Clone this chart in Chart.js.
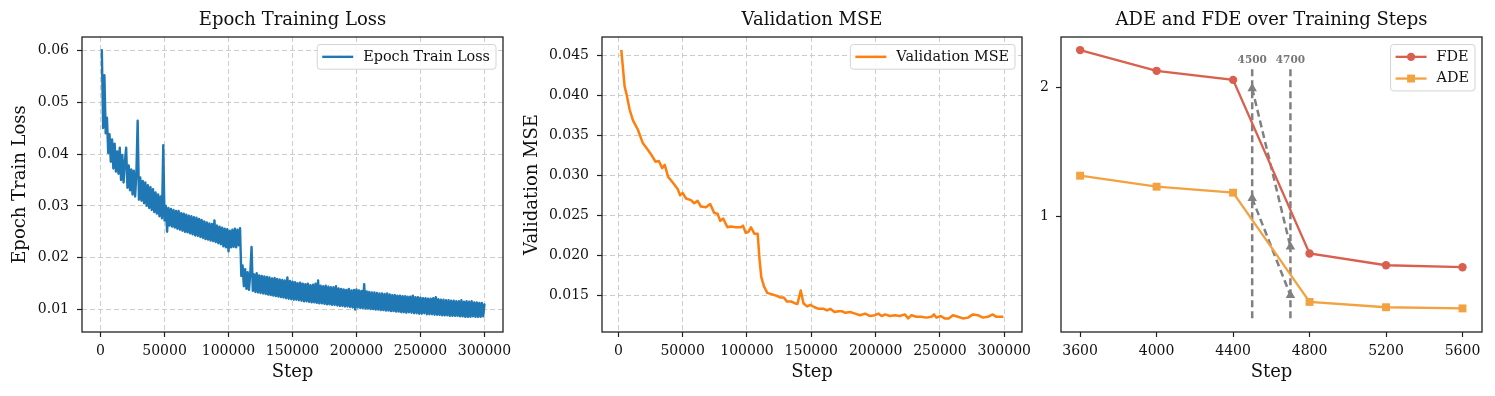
<!DOCTYPE html>
<html lang="en">
<head>
<meta charset="UTF-8">
<title>Training curves</title>
<script src="https://cdn.jsdelivr.net/npm/chart.js"></script>
<style>
  body { margin: 0; background: #fff; }
  #wrap { position: relative; width: 1495px; height: 396px; overflow: hidden; }
  canvas { position: absolute; top: 0; }
</style>
</head>
<body>
<div id="wrap">
  <canvas id="lossChart" width="520" height="396" style="left:0"></canvas>
  <canvas id="mseChart" width="530" height="396" style="left:510px"></canvas>
  <canvas id="adeChart" width="465" height="396" style="left:1030px"></canvas>
</div>

<script>
// ---- panel 1: epoch train loss, one value per 1000 steps (1000 .. 300000)
const lossSteps = Array.from({ length: 300 }, (_, i) => 1000 + i * 1000);
const lossValues = [
  0.0600, 0.0450, 0.0552, 0.0440, 0.0470, 0.0402, 0.0438, 0.0385, 0.0428, 0.0372, 0.0420, 0.0366, 0.0405, 0.0362, 0.0412, 0.0350, 0.0398, 0.0345, 0.0385, 0.0412,
  0.0335, 0.0378, 0.0330, 0.0370, 0.0322, 0.0368, 0.0318, 0.0362, 0.0464, 0.0312, 0.0355, 0.0310, 0.0348, 0.0305, 0.0345, 0.0300, 0.0340, 0.0296, 0.0336, 0.0292,
  0.0332, 0.0288, 0.0326, 0.0285, 0.0322, 0.0280, 0.0318, 0.0276, 0.0417, 0.0272, 0.0300, 0.0250, 0.0296, 0.0262, 0.0294, 0.0260, 0.0292, 0.0258, 0.0290, 0.0256,
  0.0290, 0.0254, 0.0286, 0.0252, 0.0285, 0.0250, 0.0283, 0.0249, 0.0281, 0.0247, 0.0280, 0.0245, 0.0278, 0.0243, 0.0277, 0.0242, 0.0275, 0.0240, 0.0273, 0.0238,
  0.0270, 0.0236, 0.0268, 0.0235, 0.0266, 0.0233, 0.0265, 0.0232, 0.0272, 0.0230, 0.0262, 0.0228, 0.0260, 0.0226, 0.0258, 0.0222, 0.0256, 0.0220, 0.0255, 0.0212,
  0.0252, 0.0220, 0.0254, 0.0221, 0.0256, 0.0220, 0.0254, 0.0224, 0.0257, 0.0165, 0.0185, 0.0145, 0.0178, 0.0140, 0.0172, 0.0138, 0.0170, 0.0221, 0.0136, 0.0168,
  0.0134, 0.0170, 0.0133, 0.0166, 0.0132, 0.0165, 0.0131, 0.0164, 0.0130, 0.0163, 0.0129, 0.0162, 0.0128, 0.0160, 0.0127, 0.0161, 0.0126, 0.0159, 0.0125, 0.0158,
  0.0124, 0.0157, 0.0123, 0.0156, 0.0122, 0.0162, 0.0121, 0.0155, 0.0120, 0.0154, 0.0119, 0.0153, 0.0119, 0.0151, 0.0118, 0.0152, 0.0117, 0.0150, 0.0116, 0.0149,
  0.0116, 0.0150, 0.0115, 0.0147, 0.0114, 0.0148, 0.0114, 0.0150, 0.0113, 0.0156, 0.0112, 0.0146, 0.0112, 0.0145, 0.0111, 0.0146, 0.0110, 0.0144, 0.0110, 0.0143,
  0.0109, 0.0143, 0.0109, 0.0145, 0.0108, 0.0141, 0.0107, 0.0140, 0.0107, 0.0139, 0.0106, 0.0138, 0.0106, 0.0140, 0.0105, 0.0137, 0.0104, 0.0138, 0.0100, 0.0139,
  0.0104, 0.0137, 0.0103, 0.0136, 0.0103, 0.0149, 0.0102, 0.0135, 0.0102, 0.0134, 0.0101, 0.0133, 0.0101, 0.0133, 0.0100, 0.0132, 0.0100, 0.0131, 0.0099, 0.0131,
  0.0099, 0.0130, 0.0098, 0.0131, 0.0098, 0.0129, 0.0097, 0.0128, 0.0097, 0.0128, 0.0096, 0.0127, 0.0096, 0.0127, 0.0095, 0.0126, 0.0095, 0.0126, 0.0094, 0.0125,
  0.0095, 0.0125, 0.0094, 0.0127, 0.0093, 0.0124, 0.0093, 0.0124, 0.0092, 0.0123, 0.0092, 0.0122, 0.0093, 0.0122, 0.0091, 0.0121, 0.0091, 0.0121, 0.0091, 0.0122,
  0.0090, 0.0124, 0.0090, 0.0120, 0.0090, 0.0119, 0.0089, 0.0119, 0.0089, 0.0118, 0.0089, 0.0118, 0.0088, 0.0117, 0.0088, 0.0117, 0.0088, 0.0116, 0.0088, 0.0116,
  0.0087, 0.0118, 0.0087, 0.0115, 0.0086, 0.0116, 0.0086, 0.0115, 0.0086, 0.0116, 0.0087, 0.0114, 0.0086, 0.0114, 0.0086, 0.0113, 0.0086, 0.0113, 0.0087, 0.0110
];

// ---- panel 2: validation MSE
const mseSteps = [
  2300, 4900, 6700, 8800, 11300, 15200, 19100, 22900, 25500, 28900,
  31500, 34000, 36100, 38700, 42300, 46100, 48000, 50000, 52600, 56500,
  59000, 61600, 64200, 68100, 71400, 74500, 77100, 79200, 81500, 84800,
  87400, 91300, 95100, 96900, 99000, 101000, 103100, 105700, 108300, 109800,
  111100, 113200, 115800, 119600, 123500, 126100, 128600, 131200, 134600, 137100,
  139200, 141800, 143900, 146700, 149300, 152600, 155700, 159600, 162200, 164700,
  168100, 171200, 173800, 176300, 180200, 184100, 187900, 191800, 195700, 199500,
  202100, 204700, 207300, 211100, 215000, 218800, 222700, 225300, 227900, 231700,
  235600, 239500, 243400, 245400, 247200, 250600, 253700, 256800, 260100, 264000,
  267900, 271800, 275600, 279500, 283400, 287200, 291100, 293700, 299300
];
const mseValues = [
  0.0457, 0.0411, 0.0399, 0.0382, 0.0369, 0.0357, 0.0340, 0.0332, 0.0326, 0.0317,
  0.0318, 0.0309, 0.0313, 0.0298, 0.0291, 0.0283, 0.0275, 0.0278, 0.0271, 0.0269,
  0.0265, 0.0268, 0.0261, 0.0260, 0.0264, 0.0253, 0.0252, 0.0243, 0.0246, 0.0235,
  0.0236, 0.0235, 0.0235, 0.0237, 0.0228, 0.0229, 0.0235, 0.0227, 0.0227, 0.0194,
  0.0173, 0.0161, 0.0153, 0.0151, 0.0149, 0.0147, 0.0147, 0.0142, 0.0142, 0.0140,
  0.0139, 0.0156, 0.0140, 0.0136, 0.0138, 0.0135, 0.0133, 0.0133, 0.0131, 0.0133,
  0.0129, 0.0130, 0.0130, 0.0128, 0.0129, 0.0127, 0.0125, 0.0127, 0.0124, 0.0125,
  0.0127, 0.0124, 0.0126, 0.0124, 0.0125, 0.0124, 0.0126, 0.0121, 0.0125, 0.0123,
  0.0123, 0.0122, 0.0123, 0.0126, 0.0122, 0.0124, 0.0121, 0.0121, 0.0125, 0.0123,
  0.0121, 0.0122, 0.0126, 0.0125, 0.0122, 0.0123, 0.0126, 0.0123, 0.0123
];

// ---- panel 3: ADE / FDE
const evalSteps = [3600, 4000, 4400, 4800, 5200, 5600];
const fdeValues = [2.286, 2.126, 2.056, 0.717, 0.626, 0.611];
const adeValues = [1.317, 1.232, 1.186, 0.343, 0.302, 0.293];
const markSteps = [4500, 4700];
const markRange = [0.217, 2.17];
const fdeArrow = [1.99, 0.768];   // at 4500, 4700
const adeArrow = [1.142, 0.394];

// ---- tick labels
const stepTicks = [0, 50000, 100000, 150000, 200000, 250000, 300000];
const lossTicks = [0.01, 0.02, 0.03, 0.04, 0.05, 0.06];
const mseTicks = [0.015, 0.020, 0.025, 0.030, 0.035, 0.040, 0.045];
const evalTicks = [3600, 4000, 4400, 4800, 5200, 5600];
const errTicks = [1, 2];

const FONT = '"DejaVu Serif", serif';
Chart.defaults.font.family = FONT;
Chart.defaults.color = '#111';
const GREY = '#808080';

const xy = (xs, ys) => xs.map((x, i) => ({ x: x, y: ys[i] }));

// all four spines
const frame = {
  id: 'frame',
  afterDraw(chart) {
    const { ctx, chartArea: a } = chart;
    ctx.save();
    ctx.strokeStyle = '#222';
    ctx.lineWidth = 1.3;
    ctx.strokeRect(a.left, a.top, a.right - a.left, a.bottom - a.top);
    ctx.restore();
  }
};

// title centred over the plot area
const panelTitle = {
  id: 'panelTitle',
  afterDraw(chart, args, opts) {
    const { ctx, chartArea: a } = chart;
    ctx.save();
    ctx.font = '18px ' + FONT;
    ctx.fillStyle = '#111';
    ctx.textAlign = 'center';
    ctx.textBaseline = 'middle';
    ctx.fillText(opts.text, (a.left + a.right) / 2, 20);
    ctx.restore();
  }
};

// matplotlib style legend box in the upper right corner
const boxLegend = {
  id: 'boxLegend',
  afterDatasetsDraw(chart, args, opts) {
    const { ctx, chartArea: a } = chart;
    const items = opts.items.map(i => chart.data.datasets[i]);
    ctx.save();
    ctx.font = '14.4px ' + FONT;
    const textW = Math.max(...items.map(d => ctx.measureText(d.label).width));
    const rowH = 21.7;
    const w = 5 + 31 + 10 + textW + 6;
    const h = rowH * items.length + 3;
    const x0 = a.right - 7 - w;
    const y0 = a.top + 7.5;
    ctx.beginPath();
    ctx.roundRect(x0, y0, w, h, 3);
    ctx.fillStyle = 'rgba(255,255,255,0.85)';
    ctx.fill();
    ctx.strokeStyle = '#d4d4d4';
    ctx.lineWidth = 1;
    ctx.stroke();
    items.forEach((d, i) => {
      const cy = y0 + 1.5 + rowH * (i + 0.5);
      ctx.strokeStyle = d.borderColor;
      ctx.lineWidth = d.borderWidth;
      ctx.setLineDash([]);
      ctx.beginPath();
      ctx.moveTo(x0 + 5, cy);
      ctx.lineTo(x0 + 36, cy);
      ctx.stroke();
      if (d.pointRadius) {
        ctx.fillStyle = d.borderColor;
        Chart.helpers.drawPoint(ctx, { pointStyle: d.pointStyle, radius: d.pointRadius, rotation: 0, borderWidth: 0 }, x0 + 20.5, cy);
      }
      ctx.fillStyle = '#111';
      ctx.textAlign = 'left';
      ctx.textBaseline = 'middle';
      ctx.fillText(d.label, x0 + 46, cy);
    });
    ctx.restore();
  }
};

// step labels above the dashed markers
const stepMarks = {
  id: 'stepMarks',
  afterDatasetsDraw(chart, args, opts) {
    if (!opts.steps) return;
    const { ctx, scales: { x, y } } = chart;
    ctx.save();
    ctx.font = 'bold 10.5px ' + FONT;
    ctx.fillStyle = '#777';
    ctx.textAlign = 'center';
    ctx.textBaseline = 'middle';
    opts.steps.forEach(s => ctx.fillText(String(s), x.getPixelForValue(s), y.getPixelForValue(opts.top) - 5));
    ctx.restore();
  }
};

function axis(o) {
  return {
    type: 'linear',
    min: o.min,
    max: o.max,
    title: o.title
      ? { display: true, text: o.title, color: '#111', font: { size: 18 }, padding: o.titlePad }
      : { display: false },
    grid: {
      drawOnChartArea: o.grid,
      color: '#cccccc',
      lineWidth: 1,
      tickLength: 5,
      tickColor: '#222',
      tickWidth: 1.2,
      tickBorderDash: []
    },
    border: { display: false, dash: [5, 3] },
    ticks: {
      autoSkip: false,
      maxRotation: 0,
      padding: o.tickPad,
      color: '#111',
      font: { size: 14 },
      callback: o.fmt
    },
    afterBuildTicks(scale) {
      scale.ticks = o.ticks.map(v => ({ value: v }));
    },
    afterFit(scale) {
      if (scale.isHorizontal()) scale.height = o.size; else scale.width = o.size;
    }
  };
}

function baseOptions(pad, title, scales, extra) {
  return {
    responsive: false,
    animation: false,
    layout: { autoPadding: false, padding: pad },
    plugins: Object.assign({
      legend: { display: false },
      tooltip: { enabled: false },
      panelTitle: { text: title }
    }, extra),
    scales: scales
  };
}

new Chart(document.getElementById('lossChart'), {
  type: 'line',
  data: {
    datasets: [{
      label: 'Epoch Train Loss',
      data: xy(lossSteps, lossValues),
      borderColor: '#1f77b4',
      borderWidth: 2.4,
      borderJoinStyle: 'round',
      borderCapStyle: 'round',
      pointRadius: 0,
      tension: 0
    }]
  },
  options: baseOptions({ left: 0, right: 17, top: 37, bottom: 0 }, 'Epoch Training Loss', {
    x: axis({ min: -14500, max: 314500, ticks: stepTicks, size: 64, grid: true, tickPad: 6,
      title: 'Step', titlePad: { bottom: 13 }, fmt: v => String(v) }),
    y: axis({ min: 0.00568, max: 0.06256, ticks: lossTicks, size: 82, grid: true, tickPad: 8,
      title: 'Epoch Train Loss', titlePad: { top: 9.7 }, fmt: v => v.toFixed(2) })
  }, { boxLegend: { items: [0] } }),
  plugins: [frame, panelTitle, boxLegend]
});

new Chart(document.getElementById('mseChart'), {
  type: 'line',
  data: {
    datasets: [{
      label: 'Validation MSE',
      data: xy(mseSteps, mseValues),
      borderColor: '#ff7f0e',
      borderWidth: 2.5,
      borderJoinStyle: 'round',
      pointRadius: 0,
      tension: 0
    }]
  },
  options: baseOptions({ left: 0, right: 18, top: 37, bottom: 0 }, 'Validation MSE', {
    x: axis({ min: -12700, max: 313800, ticks: stepTicks, size: 64, grid: true, tickPad: 6,
      title: 'Step', titlePad: { bottom: 13 }, fmt: v => String(v) }),
    y: axis({ min: 0.0104, max: 0.0473, ticks: mseTicks, size: 92, grid: true, tickPad: 8,
      title: 'Validation MSE', titlePad: { top: 11.7 }, fmt: v => v.toFixed(3) })
  }, { boxLegend: { items: [0] } }),
  plugins: [frame, panelTitle, boxLegend]
});

const guide = (pts) => ({
  label: '',
  data: pts,
  borderColor: GREY,
  backgroundColor: GREY,
  borderWidth: 2.5,
  borderDash: [7, 4],
  pointRadius: 0,
  tension: 0
});
const arrow = (ys) => Object.assign(guide(xy(markSteps, ys)), {
  pointStyle: 'triangle',
  pointRadius: 5.5,
  pointBorderWidth: 0
});

new Chart(document.getElementById('adeChart'), {
  type: 'line',
  data: {
    datasets: [
      {
        label: 'FDE',
        data: xy(evalSteps, fdeValues),
        borderColor: '#d9604f',
        backgroundColor: '#d9604f',
        borderWidth: 2.3,
        pointStyle: 'circle',
        pointRadius: 4.2,
        pointBorderWidth: 0,
        tension: 0
      },
      {
        label: 'ADE',
        data: xy(evalSteps, adeValues),
        borderColor: '#f2a241',
        backgroundColor: '#f2a241',
        borderWidth: 2.3,
        pointStyle: 'rect',
        pointRadius: 5.6,
        pointBorderWidth: 0,
        tension: 0
      },
      guide(markRange.map(v => ({ x: markSteps[0], y: v }))),
      guide(markRange.map(v => ({ x: markSteps[1], y: v }))),
      arrow(fdeArrow),
      arrow(adeArrow)
    ]
  },
  options: baseOptions({ left: 0, right: 13, top: 37, bottom: 0 }, 'ADE and FDE over Training Steps', {
    x: axis({ min: 3500, max: 5702, ticks: evalTicks, size: 64, grid: false, tickPad: 6,
      title: 'Step', titlePad: { bottom: 13 }, fmt: v => String(v) }),
    y: axis({ min: 0.111, max: 2.387, ticks: errTicks, size: 31, grid: false, tickPad: 7,
      fmt: v => String(v) })
  }, { boxLegend: { items: [0, 1] }, stepMarks: { steps: markSteps, top: markRange[1] } }),
  plugins: [frame, panelTitle, boxLegend, stepMarks]
});
</script>
</body>
</html>
